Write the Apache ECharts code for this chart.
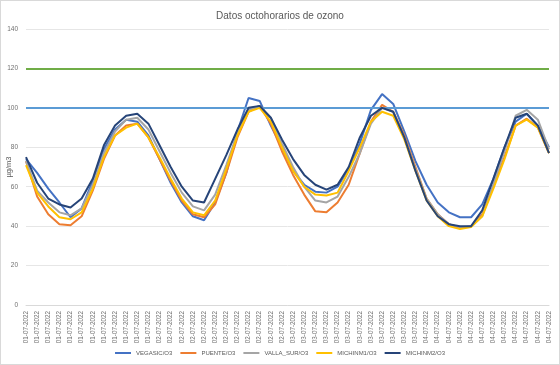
<!DOCTYPE html>
<html>
<head>
<meta charset="utf-8">
<script src="https://cdn.jsdelivr.net/npm/echarts@6/dist/echarts.min.js"></script>
<style>
html,body{margin:0;padding:0;background:#fff;}
#chart{width:560px;height:365px;box-sizing:border-box;border:1px solid #d9d9d9;}
</style>
</head>
<body>
<div id="chart"></div>
<script>
// ---- data ----
const days = ['01-07-2022','02-07-2022','03-07-2022','04-07-2022'];
const pointsPerDay = 12;
const categories = [];
days.forEach(d => { for (let k = 0; k < pointsPerDay; k++) categories.push(d); });

const seriesNames = ['VEGASIC/O3','PUENTE/O3','VALLA_SUR/O3','MICHINM1/O3','MICHINM2/O3'];

const vegasic = [74,67,59,52,44.5,49,63,79,89,94,93,86,74,62,52,45,43,52,67,88,105,103.5,91,80,68,61,57.5,57,60,69,82,99,107,102,88,73,61,52,47,44.5,44.5,51,64,80,93,97,91,80];
const puente  = [73,55,46,41,40.5,45,58,74,86,91,92,85,74,63,53,46,44.5,51,67,85,98,101,92,78,66,56,47.5,47,52,61,77,93,101.5,98,86,70,54,46,41,39,40,46,60,75,91,94.5,90,77];
const vallaSur= [73,58,52,47,45.5,49,61,77,88,94,95,89,78,67,57,50,48,56,71,87,99,101,95,82,70,60,53,52,55,65,77,92,100,98,85,69,54,46,41,39.5,40,45,61,78,96,99,94,79];
const michinm1= [71,57,50,44.5,43.5,47,59,75,86,90,92,85,75,64,54,47,45.5,53,69,86,98,100,93,80,68,60,56,55.5,57,68,80,93,98,96,84,68,53,45,40,38.5,39.5,45,59,74,91,94,90,77];
const michinm2= [75,62,54,51,49.5,54,64,81,91,96,97,92,81,70,60,53,52,64,76,89,100,101,95,84,74,66,61,58.5,61,70,85,96,100,98,85,68,53,45,41,40,40,48,64,80,95,97,91,77];

const thresholds = [100, 120];
const thresholdColors = ['#5B9BD5', '#70AD47'];
const yTicks = {min: 0, max: 140, interval: 20};

const colors = ['#4472C4','#ED7D31','#A5A5A5','#FFC000','#264478'];
const values = [vegasic, puente, vallaSur, michinm1, michinm2];

const chart = echarts.init(document.getElementById('chart'));
const fontFamily = '"Liberation Sans", Arial, sans-serif';

const series = seriesNames.map((name, idx) => {
  const s = {
    name: name,
    type: 'line',
    data: values[idx],
    symbol: 'none',
    smooth: false,
    lineStyle: {width: 2, color: colors[idx]},
    itemStyle: {color: colors[idx]},
    z: 3 + idx
  };
  if (idx === 0) {
    s.markLine = {
      silent: true,
      symbol: 'none',
      label: {show: false},
      animation: false,
      data: thresholds.map((t, k) => ({yAxis: t, lineStyle: {color: thresholdColors[k], width: 2, type: 'solid'}}))
    };
  }
  return s;
});

chart.setOption({
  animation: false,
  backgroundColor: '#fff',
  title: {
    text: 'Datos octohorarios de ozono',
    left: 'center',
    top: 5,
    textStyle: {fontFamily: fontFamily, fontSize: 10, fontWeight: 'normal', color: '#595959'}
  },
  legend: {
    bottom: 3,
    left: 'center',
    icon: 'rect',
    itemWidth: 16,
    itemHeight: 2,
    itemGap: 8,
    textStyle: {fontFamily: fontFamily, fontSize: 6, color: '#595959'},
    data: seriesNames
  },
  grid: {left: 25, right: 10, top: 28, bottom: 59, containLabel: false, outerBoundsMode: 'none'},
  xAxis: {
    type: 'category',
    data: categories,
    boundaryGap: false,
    axisLine: {show: true, lineStyle: {color: '#d9d9d9'}},
    axisTick: {show: false},
    axisLabel: {interval: 0, rotate: 90, fontSize: 6.3, color: '#707070', fontFamily: fontFamily, margin: 6}
  },
  yAxis: {
    type: 'value',
    min: yTicks.min, max: yTicks.max, interval: yTicks.interval,
    name: 'µg/m3',
    nameLocation: 'middle',
    nameRotate: 90,
    nameGap: 13,
    nameMoveOverlap: false,
    nameTextStyle: {fontFamily: fontFamily, fontSize: 7.5, color: '#595959'},
    axisLine: {show: false},
    axisTick: {show: false},
    splitLine: {lineStyle: {color: '#e6e6e6', width: 1}},
    axisLabel: {fontSize: 6.5, color: '#707070', fontFamily: fontFamily, margin: 8}
  },
  series: series
});
</script>
</body>
</html>
